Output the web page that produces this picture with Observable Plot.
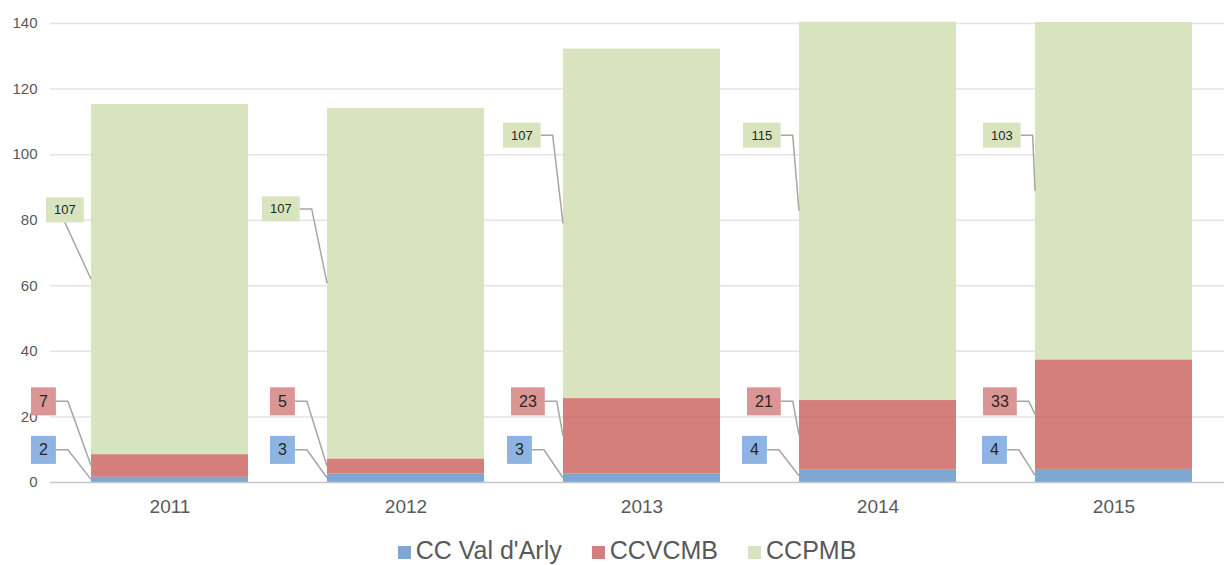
<!DOCTYPE html>
<html><head><meta charset="utf-8">
<script src="https://cdn.jsdelivr.net/npm/d3@7"></script>
<script src="https://cdn.jsdelivr.net/npm/@observablehq/plot@0.6"></script>
<style>
body{margin:0;background:#fff;font-family:"Liberation Sans",Arial,sans-serif;}
#chart svg{display:block;}
#legend{display:flex;justify-content:center;align-items:flex-end;height:29px;font-size:25px;color:#595959;white-space:nowrap;overflow:visible;padding-left:30px;margin-top:0px;}
#legend .item{display:flex;align-items:flex-end;margin:0 15px;line-height:27px;}
#legend .sw{width:13px;height:13px;margin-right:5px;margin-bottom:5px;}
</style></head><body>
<div id="chart"></div>
<div id="legend"></div>
<script>
// ---------- DATA ----------
const years = ["2011", "2012", "2013", "2014", "2015"];
const seriesNames = ["CC Val d'Arly", "CCVCMB", "CCPMB"];
const valArly = [1.6, 2.6, 2.6, 3.8, 4.0];
const ccvcmb = [6.9, 4.6, 23.0, 21.2, 33.4];
const ccpmb = [106.8, 106.9, 106.6, 115.4, 102.9];
const yTicks = [0, 20, 40, 60, 80, 100, 120, 140];

// ---------- STYLE / LAYOUT ----------
const barColors = ["#7FA7D3", "#C6544F", "#D7E4BD"];
const barOpacity = [1, 0.75, 1];
const legendColors = ["#7FA7D3", "#D47F7E", "#D7E4BD"];
const boxColors = ["#8DB4E2", "#DA9694", "#D7E4BD"];
const labelFont = [16, 16, 13];
const boxH = [28, 28, 25];
// label centre heights (value units) and offsets of each box's left edge from its bar's left edge (px)
const labelLevel = [[9.8, 9.8, 9.8, 9.8, 9.8], [24.6, 24.6, 24.6, 24.6, 24.6], [83, 83.3, 105.8, 105.8, 105.8]];
const labelLeft = [[-60, -57, -56, -57, -53], [-60, -57, -52, -52, -52], [-45, -65, -60, -56, -52]];

const seriesValues = [valArly, ccvcmb, ccpmb];
const rows = [];
seriesNames.forEach((s, si) => years.forEach((y, yi) =>
  rows.push({year: y, series: s, value: seriesValues[si][yi], op: barOpacity[si]})));
const fmt = d3.format(".0f");

function callouts(index, scales, values, dimensions) {
  const x = scales.x, y = scales.y;
  const g = d3.create("svg:g");
  const lines = g.append("g");
  const boxes = g.append("g");
  years.forEach((yr, yi) => {
    let base = 0;
    seriesValues.forEach((vals, si) => {
      const v = vals[yi];
      const mid = base + v / 2;
      base += v;
      const barLeft = x(yr);
      const ex = barLeft, ey = y(mid);
      const fs = labelFont[si];
      const txt = fmt(v);
      const w = txt.length * 0.556 * fs + 16;
      const h = boxH[si];
      const bx = barLeft + labelLeft[si][yi];
      const cy = y(labelLevel[si][yi]);
      const right = bx + w;
      let pts;
      if (right + 12 < barLeft) pts = [[right, cy], [right + 12, cy], [ex, ey]];
      else pts = [[bx + w / 2, cy + h / 2], [ex, ey]];
      lines.append("polyline")
        .attr("points", pts.map(p => p.join(",")).join(" "))
        .attr("fill", "none").attr("stroke", "#A6A6A6").attr("stroke-width", 1.5);
      boxes.append("rect").attr("x", bx).attr("y", cy - h / 2).attr("width", w).attr("height", h)
        .attr("fill", boxColors[si]);
      boxes.append("text").attr("x", bx + w / 2).attr("y", cy).attr("dy", "0.35em")
        .attr("text-anchor", "middle").attr("font-size", fs).attr("fill", "#262626").text(txt);
    });
  });
  return g.node();
}

const chart = Plot.plot({
  width: 1224,
  height: 535,
  marginLeft: 50,
  marginRight: 0,
  marginTop: 23,
  marginBottom: 53,
  style: {fontFamily: "'Liberation Sans', Arial, sans-serif", color: "#595959", background: "#fff"},
  x: {type: "band", domain: years, range: [50, 1232], paddingInner: 0.336, paddingOuter: 0.168, label: null},
  y: {domain: [0, 140], label: null},
  color: {domain: seriesNames, range: barColors},
  opacity: {type: "identity"},
  marks: [
    Plot.ruleY(yTicks.filter(d => d > 0), {stroke: "#E4E4E4", strokeWidth: 1.5}),
    Plot.barY(rows, {x: "year", y: "value", fill: "series", fillOpacity: "op"}),
    Plot.ruleY([0], {stroke: "#C6C6C6", strokeWidth: 1.5}),
    Plot.axisY(yTicks, {tickSize: 0, tickPadding: 13, fontSize: 15}),
    Plot.axisX({tickSize: 0, tickPadding: 17, fontSize: 19}),
    callouts
  ]
});
document.getElementById("chart").appendChild(chart);

const legend = d3.select("#legend");
seriesNames.forEach((s, i) => {
  const it = legend.append("div").attr("class", "item");
  it.append("div").attr("class", "sw").style("background", legendColors[i]);
  it.append("span").text(s);
});
</script>
</body></html>
